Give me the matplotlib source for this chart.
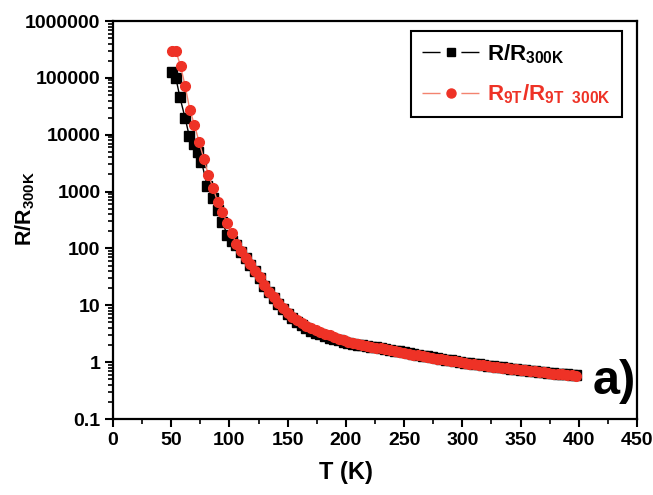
import matplotlib
matplotlib.use("Agg")
import matplotlib.pyplot as plt
from matplotlib.lines import Line2D
from matplotlib.ticker import FixedLocator, FixedFormatter, LogLocator, MultipleLocator, NullFormatter

plt.rcParams['font.family'] = ['Liberation Sans', 'DejaVu Sans']
plt.rcParams['font.weight'] = 'bold'
plt.rcParams['mathtext.fontset'] = 'custom'
plt.rcParams['mathtext.rm'] = 'Liberation Sans:bold'
plt.rcParams['mathtext.bf'] = 'Liberation Sans:bold'
plt.rcParams['mathtext.it'] = 'Liberation Sans:bold'

# zero-field resistance, normalised to 300 K
t_zero = [51, 54, 57.5, 62, 65.5, 69.5, 73, 76, 81, 86, 90, 94, 98, 102, 106,
          110, 114, 118, 122, 126, 130, 134, 138, 142, 146, 150, 154, 158, 162,
          166, 170, 174, 178, 182, 186, 190, 194, 198, 202, 206, 210, 214, 218,
          222, 226, 230, 234, 238, 242, 246, 250, 254, 258, 262, 266, 270, 274,
          278, 282, 286, 290, 294, 298, 302, 306, 310, 314, 318, 322, 326, 330,
          334, 338, 342, 346, 350, 354, 358, 362, 366, 370, 374, 378, 382, 386,
          390, 394, 398]
r_zero = [128000, 100000, 45500, 19500, 9500, 6800, 5000, 3360, 1250, 760, 480,
          290, 175, 135, 115, 87, 67, 51, 39.5, 30.5, 21.8, 16.8, 13.2, 10.5,
          8.5, 7.0, 5.9, 5.1, 4.5, 4.0, 3.6, 3.3, 3.08, 2.88, 2.70, 2.55, 2.42,
          2.30, 2.20, 2.11, 2.03, 1.97, 1.92, 1.87, 1.82, 1.77, 1.71, 1.66, 1.60,
          1.55, 1.50, 1.45, 1.40, 1.35, 1.30, 1.26, 1.22, 1.18, 1.14, 1.11, 1.07,
          1.04, 1.01, 0.985, 0.958, 0.933, 0.910, 0.887, 0.865, 0.846, 0.827,
          0.808, 0.790, 0.772, 0.755, 0.739, 0.724, 0.710, 0.696, 0.681, 0.668,
          0.654, 0.641, 0.629, 0.618, 0.607, 0.596, 0.585]

# resistance in 9 T, normalised to its own 300 K value
t_9t = [51, 54, 58, 62, 66, 70, 74, 78, 82, 86, 90, 94, 98, 102, 106, 110, 114,
        118, 122, 126, 130, 134, 138, 142, 146, 150, 154, 158, 162, 166, 170,
        174, 178, 182, 186, 190, 194, 198, 202, 206, 210, 214, 218, 222, 226,
        230, 234, 238, 242, 246, 250, 254, 258, 262, 266, 270, 274, 278, 282,
        286, 290, 294, 298, 302, 306, 310, 314, 318, 322, 326, 330, 334, 338,
        342, 346, 350, 354, 358, 362, 366, 370, 374, 378, 382, 386, 390, 394,
        398]
r_9t = [300000, 300000, 162000, 72000, 27500, 14800, 7400, 3800, 1950, 1150,
        650, 440, 280, 186, 120, 89, 69, 52.5, 40.7, 31.6, 22.4, 17.4, 13.8,
        11.0, 8.9, 7.4, 6.3, 5.5, 4.9, 4.37, 3.94, 3.63, 3.39, 3.16, 2.95, 2.75,
        2.57, 2.43, 2.29, 2.19, 2.09, 2.00, 1.93, 1.86, 1.80, 1.74, 1.68, 1.62,
        1.57, 1.51, 1.46, 1.41, 1.36, 1.32, 1.27, 1.23, 1.19, 1.15, 1.12, 1.09,
        1.06, 1.03, 1.00, 0.973, 0.946, 0.923, 0.900, 0.877, 0.855, 0.836, 0.817,
        0.798, 0.780, 0.762, 0.745, 0.729, 0.714, 0.700, 0.686, 0.671, 0.658,
        0.644, 0.631, 0.619, 0.608, 0.597, 0.586, 0.575]

y_ticks = [0.1, 1, 10, 100, 1000, 10000, 100000, 1000000]
y_ticklabels = ['0.1', '1', '10', '100', '1000', '10000', '100000', '1000000']

red = '#ee3226'
red_line = '#f3836f'

fig = plt.figure(figsize=(6.53, 4.95), dpi=100)
ax = fig.add_axes([0.173, 0.1535, 0.8025, 0.804])

ax.plot(t_zero, r_zero, color='black', lw=1, marker='s', ms=6.5,
        markeredgecolor='black', zorder=2)
ax.plot(t_9t, r_9t, color=red_line, lw=1, marker='o', ms=7,
        markerfacecolor=red, markeredgecolor=red, zorder=3)

ax.set_yscale('log')
ax.set_xlim(0, 450)
ax.set_ylim(0.1, 1000000)

ax.xaxis.set_major_locator(MultipleLocator(50))
ax.xaxis.set_minor_locator(MultipleLocator(25))
ax.yaxis.set_major_locator(FixedLocator(y_ticks))
ax.yaxis.set_major_formatter(FixedFormatter(y_ticklabels))
ax.yaxis.set_minor_locator(LogLocator(base=10, subs=range(2, 10), numticks=20))
ax.yaxis.set_minor_formatter(NullFormatter())

ax.tick_params(which='major', direction='out', length=6, width=1.5,
               labelsize=14, pad=3)
ax.tick_params(which='minor', direction='out', length=3.5, width=1.2)
ax.tick_params(top=False, right=False, which='both')
for lab in ax.get_xticklabels() + ax.get_yticklabels():
    lab.set_fontweight('bold')

for sp in ax.spines.values():
    sp.set_linewidth(1.6)

ax.set_xlabel('T (K)', fontsize=17, fontweight='bold')
ax.xaxis.set_label_coords(0.445, -0.105)
ax.set_ylabel(r'$\mathbf{R/R_{300K}}$', fontsize=15.5)
ax.yaxis.set_label_coords(-0.145, 0.53)

ax.text(0.915, 0.095, 'a)', transform=ax.transAxes, fontsize=35,
        fontweight='bold', ha='left', va='center')

h_zero = Line2D([], [], color='black', lw=1, marker='s', ms=6, dashes=(13, 15))
h_9t = Line2D([], [], color=red_line, lw=1, marker='o', ms=6.5,
              markerfacecolor=red, markeredgecolor=red, dashes=(13, 15))
leg = ax.legend([h_zero, h_9t],
                [r'$\mathbf{R/R_{300K}}$', r'$\mathbf{R_{9T}/R_{9T\ \ 300K}}$'],
                loc='upper right', bbox_to_anchor=(0.971, 0.975),
                borderaxespad=0, fontsize=16, handlelength=2.6,
                handletextpad=0.3, borderpad=0.5, labelspacing=0.75,
                fancybox=False, framealpha=1, edgecolor='black')
leg.get_frame().set_linewidth(1.5)
leg.get_texts()[1].set_color(red)

fig.savefig('out.png', dpi=100)
